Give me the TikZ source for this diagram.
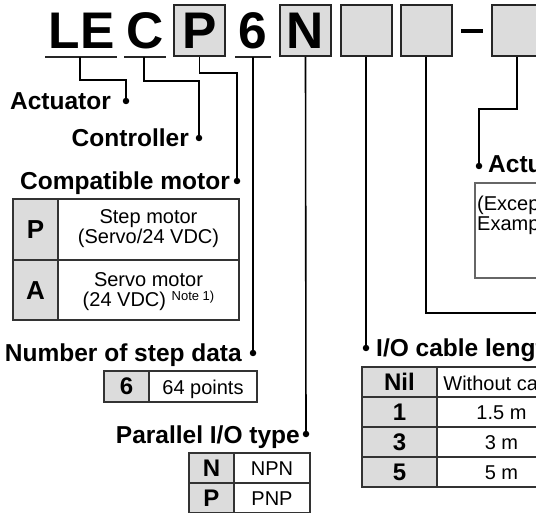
\documentclass[tikz,border=0pt]{standalone}
\usepackage{fontspec}
\setmainfont{Liberation Sans}
\definecolor{boxgray}{HTML}{DCDCDC}
\definecolor{tabline}{HTML}{333333}
\definecolor{frameline}{HTML}{666666}
\begin{document}
\begin{tikzpicture}[x=1pt,y=-1pt,
  big/.style={font=\fontsize{51.5}{52}\selectfont\bfseries, inner sep=0pt, anchor=base},
  lab/.style={font=\fontsize{24.5}{26}\selectfont\bfseries, inner sep=0pt},
  code/.style={font=\fontsize{24}{26}\selectfont\bfseries, inner sep=0pt, anchor=base},
  bigcode/.style={font=\fontsize{26}{28}\selectfont\bfseries, inner sep=0pt, anchor=base},
  txt/.style={font=\fontsize{20}{21}\selectfont, inner sep=0pt, anchor=base},
  lead/.style={line width=1.6pt, black},
  dotnode/.style={circle, fill=black, inner sep=0pt, minimum size=6.5pt},
  codebox/.style={draw=black!85, line width=2pt, fill=boxgray, minimum width=51pt, minimum height=51pt, inner sep=0pt},
  uline/.style={line width=2pt, black!85},
  tab/.style={line width=1.3pt, draw=tabline},
]
\useasboundingbox (0,0) rectangle (536,513);
\clip (0,0) rectangle (536,513);

% ---- top row ----
\node[codebox] (bP) at (199.5,30.5) {};
\node[codebox] (bN) at (305.5,30.5) {};
\node[codebox] (bA) at (366,30.5) {};
\node[codebox] (bB) at (426,30.5) {};
\node[codebox] (bC) at (517,30.5) {};
\node[big] (tLE) at (81.5,49) {LE};
\node[big] (tC) at (145,49) {C};
\node[big] (tP) at (199.5,49) {P};
\node[big] (t6) at (253,49) {6};
\node[big] (tN) at (305.5,49) {N};
\draw[uline] (45,57) -- (117,57);
\draw[uline] (124,57) -- (166,57);
\draw[uline] (235,57) -- (271,57);
\draw[line width=4pt, black] (461,31) -- (483,31);

% ---- dots ----
\node[dotnode] (dAct) at (126,101) {};
\node[dotnode] (dCon) at (199,138) {};
\node[dotnode] (dMot) at (237,181) {};
\node[dotnode] (dNum) at (253,353) {};
\node[dotnode] (dPar) at (306,434) {};
\node[dotnode] (dCab) at (366,348) {};
\node[dotnode] (dPart) at (479,166) {};

% ---- connectors ----
\coordinate (cLE) at (80,57);
\coordinate (cC) at (144,57);
\coordinate (cRight) at (545,313);
\draw[lead] (cLE) -- (80,80) -| (dAct.center);
\draw[lead] (cC) -- (144,81) -| (dCon.center);
\draw[lead] (bP.south) -- (199.5,73) -| (dMot.center);
\draw[lead] (253,57) -- (dNum.center);
\draw[lead] (bN.south) -- (dPar.center);
\draw[lead] (bA.south) -- (dCab.center);
\draw[lead] (bB.south) |- (cRight);
\draw[lead] (bC.south) -- (517,109) -| (dPart.center);

% ---- labels ----
\node[lab, anchor=base east] (lAct) at (111,110) {Actuator};
\node[lab, anchor=base east] (lCon) at (189,147) {Controller};
\node[lab, anchor=base east] (lMot) at (230,190) {Compatible motor};
\node[lab, anchor=base east] (lNum) at (242,361) {Number of step data};
\node[lab, anchor=base east] (lPar) at (300,443) {Parallel I/O type};
\node[lab, anchor=base west] (lCab) at (376,356) {I/O cable length};
\node[lab, anchor=base west] (lPart) at (488,173) {Actuator part number};

% ---- compatible motor table ----
\fill[boxgray] (13,199) rectangle (58,320);
\draw[tab] (13,199) rectangle (239,320);
\draw[tab] (58,199) -- (58,320);
\draw[tab] (13,260) -- (239,260);
\node[bigcode] (mP) at (35.5,239) {P};
\node[bigcode] (mA) at (35.5,300) {A};
\node[txt] (mP1) at (148.5,224) {Step motor};
\node[txt] (mP2) at (148.5,244) {(Servo/24 VDC)};
\node[txt] (mA1) at (148.5,287) {Servo motor};
\node[txt] (mA2) at (148.5,307) {(24 VDC) \raisebox{6pt}[0pt][0pt]{\fontsize{13}{13}\selectfont Note 1)}};

% ---- step data table ----
\fill[boxgray] (104,371) rectangle (149,402);
\draw[tab] (104,371) rectangle (257,402);
\draw[tab] (149,371) -- (149,402);
\node[code] (s6) at (126.5,395) {6};
\node[txt] (s64) at (203,394) {64 points};

% ---- parallel I/O table ----
\fill[boxgray] (189,453) rectangle (234,513);
\draw[tab] (189,453) rectangle (310,513);
\draw[tab] (234,453) -- (234,513);
\draw[tab] (189,483) -- (310,483);
\node[code] (pN) at (211.5,476.5) {N};
\node[code] (pP) at (211.5,506.5) {P};
\node[txt] (pNPN) at (272,475.5) {NPN};
\node[txt] (pPNP) at (272,505.5) {PNP};

% ---- I/O cable length table ----
\fill[boxgray] (362,367) rectangle (437,487);
\draw[tab] (362,367) rectangle (566,487);
\draw[tab] (437,367) -- (437,487);
\draw[tab] (362,397) -- (566,397);
\draw[tab] (362,427) -- (566,427);
\draw[tab] (362,457) -- (566,457);
\node[code] (cNil) at (399.5,391) {Nil};
\node[code] (c1) at (399.5,420.5) {1};
\node[code] (c3) at (399.5,450.5) {3};
\node[code] (c5) at (399.5,480.5) {5};
\node[txt] (cW) at (504,390) {Without cable};
\node[txt] (c15) at (501.5,419.5) {1.5 m};
\node[txt] (c3m) at (501.5,449.5) {3 m};
\node[txt] (c5m) at (501.5,479.5) {5 m};

% ---- actuator part number box ----
\draw[line width=1.2pt, draw=frameline] (475,183) rectangle (640,278);
\node[txt, anchor=base west] (aEx1) at (477,211) {(Except cable specifications and actuator options)};
\node[txt, anchor=base west] (aEx2) at (477,231) {Example: Enter “LE” for LEFS16B-100};
\end{tikzpicture}
\end{document}
